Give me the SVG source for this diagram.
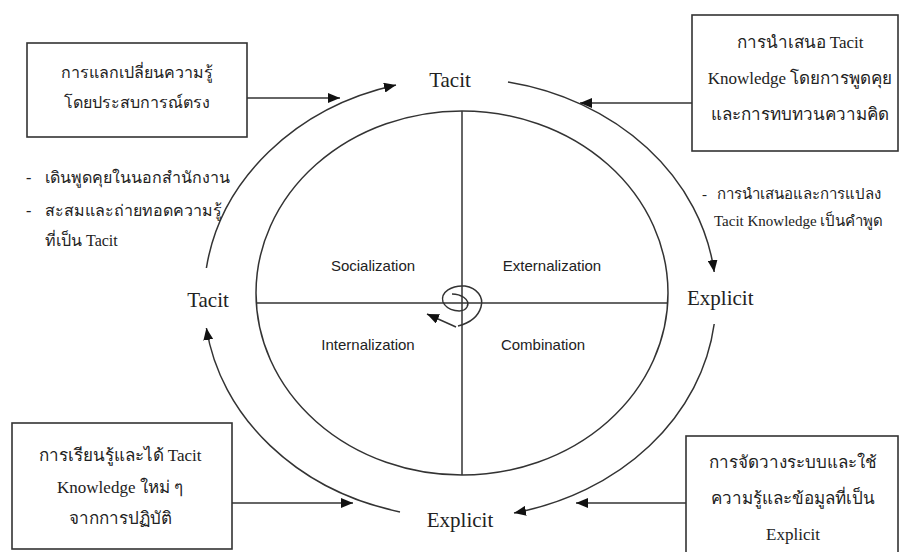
<svg xmlns="http://www.w3.org/2000/svg" width="902" height="552" viewBox="0 0 902 552">
  <style>
    .ln { fill: none; stroke: #333; stroke-width: 1.5; }
    .box { fill: #fff; stroke: #333; stroke-width: 1.6; }
    .th { font-family: "Liberation Serif", "Noto Sans", serif; font-size: 17px; fill: #222; }
    .note { font-size: 16px; }
    .note-r { font-size: 15px; }
    .thc { text-anchor: middle; }
    .lbl { font-family: "Liberation Serif", serif; font-size: 21px; fill: #222; }
    .q { font-family: "Liberation Sans", Arial, sans-serif; font-size: 15px; fill: #222; }
  </style>
  <defs>
    <marker id="ah" viewBox="0 0 12 10" refX="12" refY="5" markerWidth="12" markerHeight="10" markerUnits="userSpaceOnUse" orient="auto">
      <path d="M0,0 L12,5 L0,10 Z" fill="#111"/>
    </marker>
  </defs>

  <rect width="902" height="552" fill="#fff"/>

  <!-- inner circle divided into four modes -->
  <g id="core">
    <ellipse class="ln" cx="462" cy="293" rx="206" ry="182"/>
    <line class="ln" x1="462" y1="111" x2="462" y2="475"/>
    <line class="ln" x1="256" y1="303" x2="668" y2="303"/>
  </g>
  <g id="socialization"><text class="q" x="373" y="271" text-anchor="middle">Socialization</text></g>
  <g id="externalization"><text class="q" x="552" y="271" text-anchor="middle">Externalization</text></g>
  <g id="internalization"><text class="q" x="368" y="350" text-anchor="middle">Internalization</text></g>
  <g id="combination"><text class="q" x="543" y="350" text-anchor="middle">Combination</text></g>

  <!-- spiral at the centre -->
  <g id="spiral">
    <path class="ln" d="M452,294 C460,294 471,299 467,307 C463,314 447,311 443,302 C440,292 452,285 465,286 C477,288 484,297 481,307 C478,317 470,323 458,326"/>
    <line class="ln" x1="456" y1="327" x2="427" y2="314" marker-end="url(#ah)"/>
  </g>

  <!-- cycle labels -->
  <g id="tacit-top"><text class="lbl" x="450" y="87" text-anchor="middle">Tacit</text></g>
  <g id="explicit-right"><text class="lbl" x="687" y="305">Explicit</text></g>
  <g id="explicit-bottom"><text class="lbl" x="460" y="527" text-anchor="middle">Explicit</text></g>
  <g id="tacit-left"><text class="lbl" x="208" y="307" text-anchor="middle">Tacit</text></g>

  <!-- boxes -->
  <g id="box-socialization">
    <rect class="box" x="27" y="43" width="220" height="94"/>
    <text class="th thc note" x="137" y="78">การแลกเปลี่ยนความรู้</text>
    <text class="th thc note" x="137" y="108">โดยประสบการณ์ตรง</text>
  </g>
  <g id="box-externalization">
    <rect class="box" x="692" y="15" width="206" height="136"/>
    <text class="th thc" x="800" y="48">การนำเสนอ Tacit</text>
    <text class="th thc" x="800" y="84">Knowledge โดยการพูดคุย</text>
    <text class="th thc" x="800" y="120">และการทบทวนความคิด</text>
  </g>
  <g id="box-internalization">
    <rect class="box" x="12" y="423" width="220" height="126"/>
    <text class="th thc" x="120" y="461">การเรียนรู้และได้ Tacit</text>
    <text class="th thc" x="120" y="493">Knowledge ใหม่ ๆ</text>
    <text class="th thc" x="120" y="524">จากการปฏิบัติ</text>
  </g>
  <g id="box-combination">
    <rect class="box" x="686" y="436" width="212" height="118"/>
    <text class="th thc" x="793" y="468">การจัดวางระบบและใช้</text>
    <text class="th thc" x="793" y="504">ความรู้และข้อมูลที่เป็น</text>
    <text class="th thc" x="793" y="540">Explicit</text>
  </g>

  <!-- side notes -->
  <g id="note-left">
    <text class="th note" x="26" y="183">-</text>
    <text class="th note" x="45" y="183">เดินพูดคุยในนอกสำนักงาน</text>
    <text class="th note" x="26" y="216">-</text>
    <text class="th note" x="45" y="216">สะสมและถ่ายทอดความรู้</text>
    <text class="th note" x="45" y="246">ที่เป็น Tacit</text>
  </g>
  <g id="note-right">
    <text class="th note-r" x="702" y="199">-</text>
    <text class="th note-r" x="717" y="199">การนำเสนอและการแปลง</text>
    <text class="th note-r" x="714" y="226">Tacit Knowledge เป็นคำพูด</text>
  </g>

  <!-- connectors -->
  <g id="connectors">
    <path class="ln" d="M206.4,268 A256,220 0 0 1 396,85" marker-end="url(#ah)"/>
    <path class="ln" d="M508,82 A256,220 0 0 1 714.2,272" marker-end="url(#ah)"/>
    <path class="ln" d="M714.2,324 A256,220 0 0 1 514,513" marker-end="url(#ah)"/>
    <path class="ln" d="M400,511.9 A256,220 0 0 1 206.4,328" marker-end="url(#ah)"/>
    <line class="ln" x1="247" y1="98" x2="340" y2="98" marker-end="url(#ah)"/>
    <line class="ln" x1="692" y1="103" x2="580" y2="103" marker-end="url(#ah)"/>
    <line class="ln" x1="232" y1="503" x2="353" y2="503" marker-end="url(#ah)"/>
    <line class="ln" x1="686" y1="503" x2="576" y2="503" marker-end="url(#ah)"/>
  </g>
</svg>
